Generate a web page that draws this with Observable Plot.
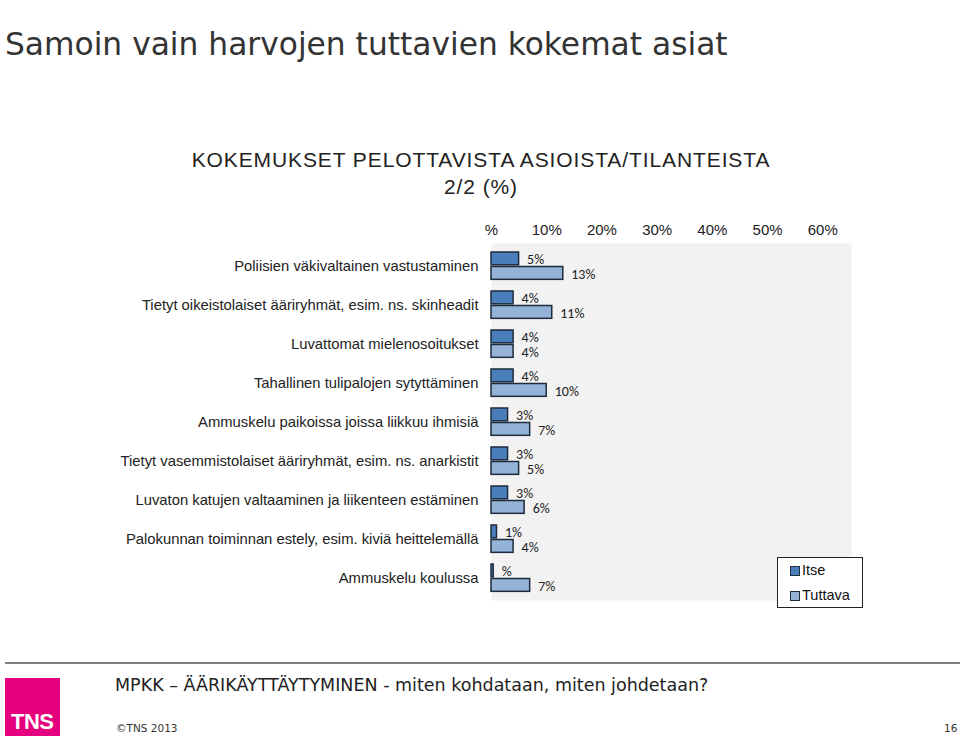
<!DOCTYPE html>
<html>
<head>
<meta charset="utf-8">
<script src="https://cdn.jsdelivr.net/npm/d3@7"></script>
<script src="https://cdn.jsdelivr.net/npm/@observablehq/plot@0.6"></script>
<style>
  html, body { margin: 0; padding: 0; background: #fff; }
  #page { position: relative; width: 960px; height: 737px; overflow: hidden; font-family: "Liberation Sans", Arial, sans-serif; }
  .abs { position: absolute; white-space: nowrap; }
  #title { left: 5px; top: 26px; font-family: "DejaVu Sans", Verdana, sans-serif; font-size: 31.3px; color: #333; }
  #sub1 { left: 0; width: 962px; text-align: center; top: 148px; font-size: 21px; letter-spacing: 0.9px; color: #222; }
  #sub2 { left: 0; width: 962px; text-align: center; top: 175px; font-size: 21px; letter-spacing: 0.9px; color: #222; }
  #chart { left: 0; top: 200px; }
  #legend { left: 777px; top: 557px; width: 84px; height: 49px; border: 1px solid #222; background: #fff; }
  .sw { position: absolute; width: 8px; height: 8px; border: 1px solid #1e2b3c; }
  .lt { position: absolute; font-size: 14.5px; color: #111; }
  #rule { left: 5px; top: 662px; width: 955px; height: 2px; background: #808080; }
  #logo { left: 5px; top: 678px; width: 55px; height: 58px; background: #e5007d; }
  #logo span { position: absolute; left: 6px; bottom: 1px; color: #fff; font-family: "Liberation Sans Narrow", "Liberation Sans", Arial, sans-serif; font-weight: bold; font-size: 22px; letter-spacing: -0.5px; }
  #foot { left: 115px; top: 675px; font-family: "DejaVu Sans", Verdana, sans-serif; font-size: 17.5px; color: #222; }
  #copy { left: 116px; top: 722px; font-family: "DejaVu Sans", Verdana, sans-serif; font-size: 10.5px; color: #333; }
  #pg { left: 944px; top: 722px; font-family: "DejaVu Sans", Verdana, sans-serif; font-size: 10.5px; color: #333; }
</style>
</head>
<body>
<div id="page">
  <div class="abs" id="title">Samoin vain harvojen tuttavien kokemat asiat</div>
  <div class="abs" id="sub1">KOKEMUKSET PELOTTAVISTA ASIOISTA/TILANTEISTA</div>
  <div class="abs" id="sub2">2/2 (%)</div>
  <div class="abs" id="chart"></div>
  <div class="abs" id="legend">
    <div class="sw" style="left:12px;top:8px;background:#4a7ebb"></div>
    <div class="lt" style="left:24px;top:4px">Itse</div>
    <div class="sw" style="left:12px;top:33px;background:#95b3d7"></div>
    <div class="lt" style="left:24px;top:29px">Tuttava</div>
  </div>
  <div class="abs" id="rule"></div>
  <div class="abs" id="logo"><span>TNS</span></div>
  <div class="abs" id="foot">MPKK – ÄÄRIKÄYTTÄYTYMINEN - miten kohdataan, miten johdetaan?</div>
  <div class="abs" id="copy">©TNS 2013</div>
  <div class="abs" id="pg">16</div>
</div>
<script>
const categories = [
  "Poliisien väkivaltainen vastustaminen",
  "Tietyt oikeistolaiset ääriryhmät, esim. ns. skinheadit",
  "Luvattomat mielenosoitukset",
  "Tahallinen tulipalojen sytyttäminen",
  "Ammuskelu paikoissa joissa liikkuu ihmisiä",
  "Tietyt vasemmistolaiset ääriryhmät, esim. ns. anarkistit",
  "Luvaton katujen valtaaminen ja liikenteen estäminen",
  "Palokunnan toiminnan estely, esim. kiviä heittelemällä",
  "Ammuskelu koulussa"
];
const itse = [5, 4, 4, 4, 3, 3, 3, 1, 0.4];
const itseLabels = ["5%", "4%", "4%", "4%", "3%", "3%", "3%", "1%", "%"];
const tuttava = [13, 11, 4, 10, 7, 5, 6, 4, 7];
const tuttavaLabels = ["13%", "11%", "4%", "10%", "7%", "5%", "6%", "4%", "7%"];
const xTicks = [0, 10, 20, 30, 40, 50, 60];
const xTickLabels = ["%", "10%", "20%", "30%", "40%", "50%", "60%"];

const dItse = categories.map((c, i) => ({cat: c, v: itse[i], label: itseLabels[i]}));
const dTut = categories.map((c, i) => ({cat: c, v: tuttava[i], label: tuttavaLabels[i]}));

const band = 357 / 9;
const labelFont = "Carlito, Lato, 'Open Sans', sans-serif";

const chart = Plot.plot({
  width: 960,
  height: 410,
  marginTop: 43,
  marginBottom: 10,
  marginLeft: 491,
  marginRight: 109,
  style: {fontFamily: "'Liberation Sans', Arial, sans-serif", fontSize: "14px", color: "#222", background: "transparent"},
  x: {domain: [0, 65.2], axis: null},
  y: {domain: categories, padding: 0, axis: null},
  marks: [
    Plot.frame({fill: "#f2f2f2", stroke: null}),
    Plot.axisX({anchor: "top", ticks: xTicks, tickFormat: d => xTickLabels[xTicks.indexOf(d)], tickSize: 0, tickPadding: 9, fontSize: 15, label: null}),
    Plot.axisY({tickSize: 0, tickPadding: 13, fontSize: 14.8, label: null}),
    Plot.barX(dItse, {x: "v", y: "cat", fill: "#4a7ebb", stroke: "#1e2b3c", strokeWidth: 1.5, insetTop: 6, insetBottom: band - 19.5}),
    Plot.barX(dTut, {x: "v", y: "cat", fill: "#95b3d7", stroke: "#1e2b3c", strokeWidth: 1.5, insetTop: 20.5, insetBottom: band - 34}),
    Plot.text(dItse, {x: "v", y: "cat", text: "label", textAnchor: "start", dx: 8, dy: -6.5, fontSize: 14, fontFamily: labelFont, fill: "#222"}),
    Plot.text(dTut, {x: "v", y: "cat", text: "label", textAnchor: "start", dx: 8, dy: 9, fontSize: 14, fontFamily: labelFont, fill: "#222"})
  ]
});
document.getElementById("chart").appendChild(chart);
</script>
</body>
</html>
